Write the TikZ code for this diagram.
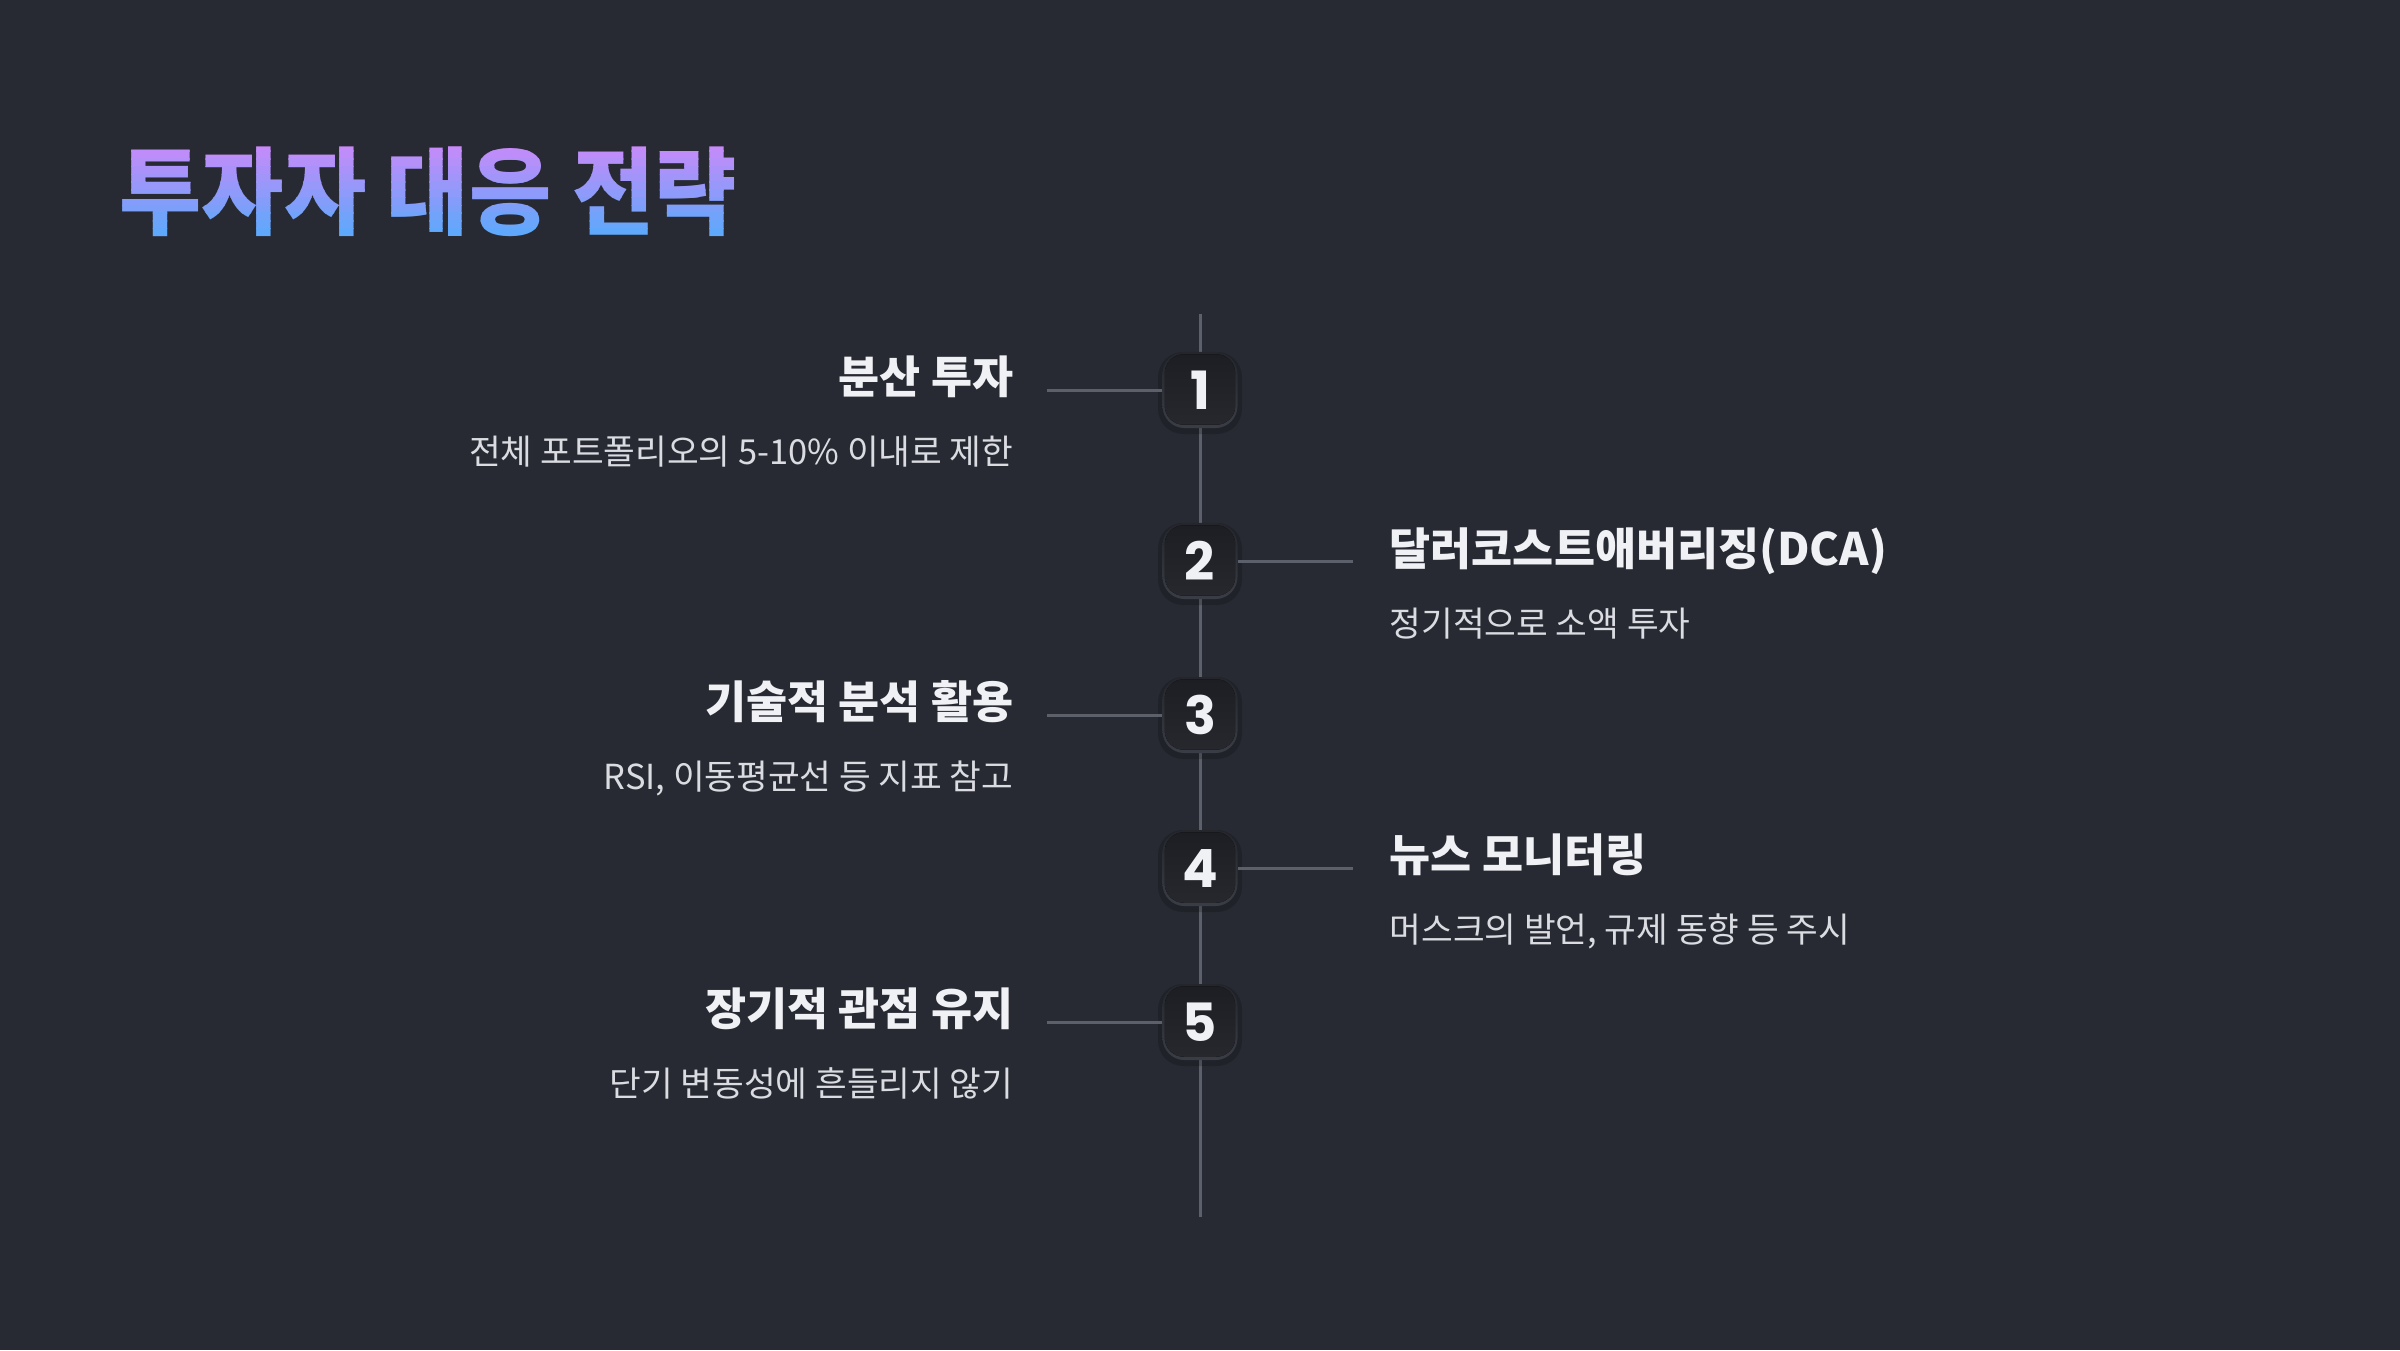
\documentclass[tikz,border=0pt]{standalone}
\usepackage{fontspec}
\setmainfont{Noto Sans CJK KR}
\newfontfamily\numfont{Poppins}
\definecolor{bg}{HTML}{282A33}
\definecolor{headc}{HTML}{F0F1F5}
\definecolor{descc}{HTML}{DADCE2}
\definecolor{linec}{HTML}{5C606B}
\definecolor{rimtop}{HTML}{24262C}
\definecolor{rimbot}{HTML}{3A3D45}
\definecolor{boxtop}{HTML}{1C1E23}
\definecolor{boxbot}{HTML}{26282E}
\definecolor{titletop}{HTML}{C98AF9}
\definecolor{titlebot}{HTML}{5FA8FB}
\newcommand{\titlefont}{\fontsize{27.2}{33}\selectfont\bfseries}
\tikzset{
  titletext/.style={font=\titlefont, inner sep=0pt, anchor=base west, xscale=0.935, transform shape},
  head/.style={font=\fontsize{12.7}{15}\selectfont\bfseries, text=headc, inner sep=0pt},
  desc/.style={font=\fontsize{9.8}{12}\selectfont, text=descc, inner sep=0pt},
  numbox/.style={minimum width=0.75cm, minimum height=0.76cm, rounded corners=0.22cm,
    top color=rimtop, bottom color=rimbot, inner sep=0pt},
  boxface/.style={rounded corners=0.19cm, top color=boxtop, bottom color=boxbot},
  numtext/.style={text=headc, font=\numfont\fontsize{15}{18}\selectfont\bfseries, inner sep=0pt},
  conn/.style={draw=linec, line width=0.03cm},
}
\begin{document}
\begin{tikzpicture}[x=0.01cm,y=-0.01cm]
\fill[bg] (0,0) rectangle (2400,1350);
\useasboundingbox (0,0) rectangle (2400,1350);

% title with vertical gradient (drawn in horizontal bands)
\foreach \i in {0,...,11}{
  \pgfmathtruncatemacro\p{100-\i*100/11}
  \pgfmathsetmacro\ya{\i==0 ? 90 : 143+\i*7.75}
  \pgfmathsetmacro\yb{\i==11 ? 280 : 143+(\i+1)*7.75+0.6}
  \colorlet{tcol}{titletop!\p!titlebot}
  \begin{scope}
    \clip (100,\ya) rectangle (800,\yb);
    \node[titletext, text=tcol] (title\i) at (119,227) {투자자 대응 전략};
  \end{scope}
}

% timeline spine
\coordinate (top) at (1200,314);
\coordinate (bot) at (1200,1217);
\draw[conn] (top) -- (bot);

% boxes
\foreach \n/\c in {1/390,2/561,3/715,4/868,5/1022}{
  \fill[black, opacity=0.18, rounded corners=0.25cm] (1158,\c-38) rectangle (1242,\c+44);
  \node[numbox] (b\n) at (1200,\c) {};
  \fill[boxface] ([shift={(3,3)}]b\n.north west) rectangle ([shift={(-3,-4)}]b\n.south east);
  \node[numtext] (n\n) at (1200,\c) {\n};
}

% connectors
\coordinate (l1) at (1047,390);
\coordinate (r2) at (1353,561);
\coordinate (l3) at (1047,715);
\coordinate (r4) at (1353,868);
\coordinate (l5) at (1047,1022);
\draw[conn] (l1) -- (b1.west);
\draw[conn] (b2.east) -- (r2);
\draw[conn] (l3) -- (b3.west);
\draw[conn] (b4.east) -- (r4);
\draw[conn] (l5) -- (b5.west);

% texts
\node[head, anchor=base east] (h1) at (1014,393) {분산 투자};
\node[desc, anchor=base east] (d1) at (1014,464) {전체 포트폴리오의 5-10\% 이내로 제한};

\node[head, anchor=base west] (h2) at (1389,565) {달러코스트애버리징(DCA)};
\node[desc, anchor=base west] (d2) at (1389,636) {정기적으로 소액 투자};

\node[head, anchor=base east] (h3) at (1014,718) {기술적 분석 활용};
\node[desc, anchor=base east] (d3) at (1014,789) {RSI, 이동평균선 등 지표 참고};

\node[head, anchor=base west] (h4) at (1389,871) {뉴스 모니터링};
\node[desc, anchor=base west] (d4) at (1389,942) {머스크의 발언, 규제 동향 등 주시};

\node[head, anchor=base east] (h5) at (1014,1025) {장기적 관점 유지};
\node[desc, anchor=base east] (d5) at (1014,1096) {단기 변동성에 흔들리지 않기};
\end{tikzpicture}
\end{document}
